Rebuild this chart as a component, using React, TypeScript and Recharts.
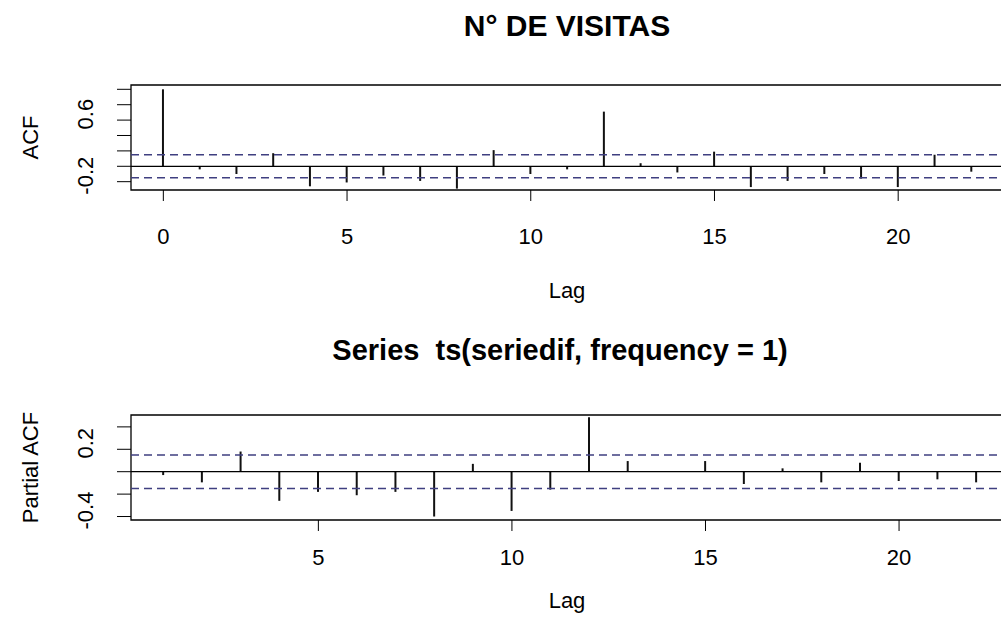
import { ComposedChart, Bar, XAxis, YAxis, ReferenceLine, ReferenceArea } from 'recharts'

// ACF of the differenced series, lags 0..22
const acfLags = [0, 1, 2, 3, 4, 5, 6, 7, 8, 9, 10, 11, 12, 13, 14, 15, 16, 17, 18, 19, 20, 21, 22]
const acfValues = [1.0, -0.04, -0.1, 0.17, -0.26, -0.21, -0.12, -0.19, -0.29, 0.21, -0.1, -0.04, 0.71, 0.04, -0.08, 0.19, -0.27, -0.19, -0.1, -0.16, -0.27, 0.15, -0.07]

// PACF, lags 1..22
const pacfLags = [1, 2, 3, 4, 5, 6, 7, 8, 9, 10, 11, 12, 13, 14, 15, 16, 17, 18, 19, 20, 21, 22]
const pacfValues = [-0.03, -0.095, 0.18, -0.26, -0.18, -0.21, -0.18, -0.4, 0.07, -0.35, -0.16, 0.485, 0.095, 0.005, 0.095, -0.11, 0.03, -0.095, 0.08, -0.083, -0.068, -0.095]

const acfTicksX = [0, 5, 10, 15, 20]
const pacfTicksX = [5, 10, 15, 20]
const acfTicksY = [-0.2, 0, 0.2, 0.4, 0.6, 0.8, 1.0]
const acfLabelsY = [-0.2, 0.6]
const pacfTicksY = [-0.4, -0.2, 0, 0.2, 0.4]
const pacfLabelsY = [-0.4, 0.2]
const confLimit = 0.15

const FONT = '"Liberation Sans", Arial, Helvetica, sans-serif'
const CI_COLOR = '#3f3f80'

const fmt = (v: number) => (v === 0 ? '0.0' : v.toFixed(1))

function Panel({ lags, values, xDomain, yDomain, xTicks, yTicks, yLabels, yTitle, top, bottom, right, tickGap, lagY }: any) {
  const data = lags.map((l: number, i: number) => ({ lag: l, v: values[i] }))
  const plotBottom = 631 - bottom
  const midY = (top + plotBottom) / 2

  const YTick = ({ x, y, payload }: any) => {
    if (!yLabels.includes(payload.value)) return <g />
    return (
      <text transform={`translate(${x},${y}) rotate(-90)`} dx={6} textAnchor="middle" fontSize={22} fontFamily={FONT} fill="#000">
        {fmt(payload.value)}
      </text>
    )
  }

  const XTick = ({ x, y, payload }: any) => (
    <text x={x} y={y} dy="0.72em" textAnchor="middle" fontSize={22} fontFamily={FONT} fill="#000">
      {payload.value}
    </text>
  )

  return (
    <div style={{ position: 'absolute', left: 0, top: 0 }}>
      <ComposedChart width={1040} height={631} data={data} margin={{ top, right, bottom: 0, left: 0 }}>
        <XAxis
          dataKey="lag"
          type="number"
          domain={xDomain}
          ticks={xTicks}
          allowDataOverflow
          axisLine={false}
          tickLine={{ stroke: '#000' }}
          tickSize={11}
          tickMargin={tickGap}
          tick={<XTick />}
          height={bottom}
          interval={0}
          label={() => (
            <text x={567} y={lagY} textAnchor="middle" fontSize={22} fontFamily={FONT} fill="#000">
              Lag
            </text>
          )}
        />
        <YAxis
          type="number"
          domain={yDomain}
          ticks={yTicks}
          allowDataOverflow
          axisLine={false}
          tickLine={{ stroke: '#000' }}
          tickSize={14}
          tickMargin={24}
          tick={<YTick />}
          width={131}
          interval={0}
          label={() => (
            <text transform={`translate(38,${midY}) rotate(-90)`} textAnchor="middle" fontSize={22} fontFamily={FONT} fill="#000">
              {yTitle}
            </text>
          )}
        />
        <ReferenceArea x1={xDomain[0]} x2={xDomain[1]} y1={yDomain[0]} y2={yDomain[1]} fill="none" stroke="#000" strokeWidth={1.3} fillOpacity={0} />
        <ReferenceLine y={0} stroke="#000" strokeWidth={1.3} />
        <ReferenceLine y={confLimit} stroke={CI_COLOR} strokeWidth={1.5} strokeDasharray="8 5" />
        <ReferenceLine y={-confLimit} stroke={CI_COLOR} strokeWidth={1.5} strokeDasharray="8 5" />
        <Bar dataKey="v" fill="#111" barSize={2} isAnimationActive={false} />
      </ComposedChart>
    </div>
  )
}

export default function App() {
  const titleStyle: any = {
    position: 'absolute',
    left: 0,
    textAlign: 'center',
    fontFamily: FONT,
    fontWeight: 'bold',
    lineHeight: 1,
    color: '#000',
    whiteSpace: 'pre',
  }
  return (
    <div style={{ position: 'absolute', left: 0, top: 0, width: 1001, height: 631, overflow: 'hidden', background: '#fff' }}>
      <div style={{ ...titleStyle, width: 1134, fontSize: 30, top: 11 }}>N° DE VISITAS</div>
      <div style={{ ...titleStyle, width: 1120, fontSize: 29, top: 336 }}>Series  ts(seriedif, frequency = 1)</div>
      <Panel
        lags={acfLags}
        values={acfValues}
        xDomain={[-0.88, 22.88]}
        yDomain={[-0.308, 1.056]}
        xTicks={acfTicksX}
        yTicks={acfTicksY}
        yLabels={acfLabelsY}
        yTitle="ACF"
        top={85}
        bottom={441}
        right={36}
        tickGap={27}
        lagY={298}
      />
      <Panel
        lags={pacfLags}
        values={pacfValues}
        xDomain={[0.16, 22.84]}
        yDomain={[-0.431, 0.506]}
        xTicks={pacfTicksX}
        yTicks={pacfTicksY}
        yLabels={pacfLabelsY}
        yTitle="Partial ACF"
        top={415}
        bottom={111}
        right={31}
        tickGap={18}
        lagY={608}
      />
    </div>
  )
}
